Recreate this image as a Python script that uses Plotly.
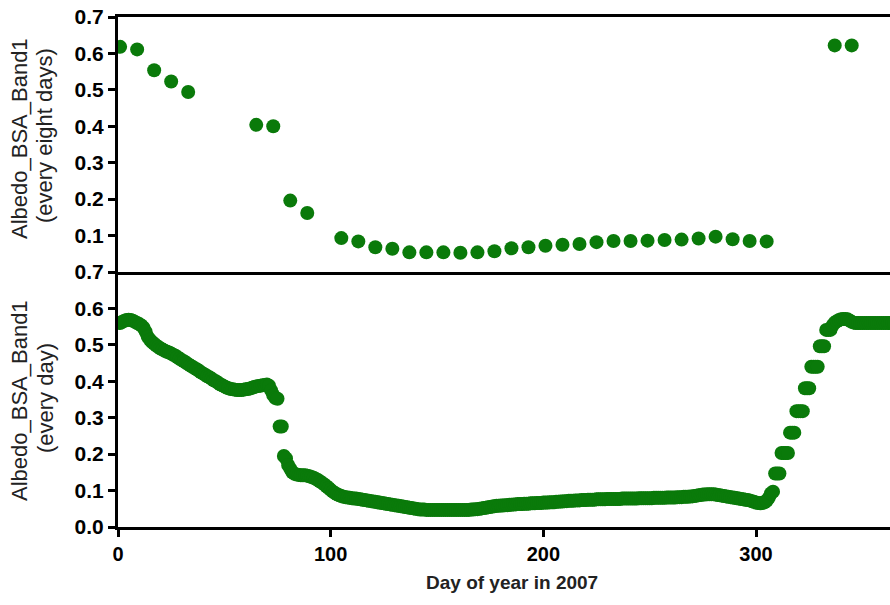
import plotly.graph_objects as go

# ---- data ----
days_8day = [1, 9, 17, 25, 33, 65, 73, 81, 89, 105, 113, 121, 129, 137, 145, 153, 161, 169,
             177, 185, 193, 201, 209, 217, 225, 233, 241, 249, 257, 265, 273, 281, 289, 297,
             305, 337, 345]
albedo_8day = [0.618, 0.611, 0.554, 0.523, 0.494, 0.404, 0.400, 0.196, 0.162, 0.093, 0.084,
               0.068, 0.064, 0.054, 0.054, 0.054, 0.053, 0.054, 0.057, 0.065, 0.068, 0.072,
               0.075, 0.077, 0.082, 0.085, 0.085, 0.086, 0.088, 0.089, 0.092, 0.097, 0.090,
               0.085, 0.084, 0.622, 0.622]

albedo_daily = [
    0.560, 0.563, 0.566, 0.568, 0.569, 0.568, 0.566, 0.563, 0.560, 0.557,
    0.553, 0.547, 0.536, 0.522, 0.514, 0.508, 0.503, 0.498, 0.494, 0.490,
    0.487, 0.484, 0.481, 0.479, 0.476, 0.473, 0.470, 0.466, 0.462, 0.458,
    0.455, 0.451, 0.447, 0.443, 0.440, 0.436, 0.433, 0.429, 0.425, 0.421,
    0.418, 0.414, 0.411, 0.407, 0.403, 0.400, 0.396, 0.392, 0.389, 0.386,
    0.383, 0.381, 0.379, 0.378, 0.377, 0.376, 0.376, 0.376, 0.377, 0.378,
    0.379, 0.380, 0.382, 0.384, 0.386, 0.387, 0.388, 0.389, 0.390, 0.391,
    0.388, 0.375, 0.362, 0.354, 0.352, 0.276, 0.276, 0.195, 0.188, 0.170,
    0.160, 0.150, 0.146, 0.144, 0.143, 0.142, 0.142, 0.142, 0.141, 0.139,
    0.137, 0.135, 0.132, 0.129, 0.125, 0.121, 0.117, 0.112, 0.107, 0.102,
    0.097, 0.093, 0.090, 0.087, 0.085, 0.083, 0.082, 0.081, 0.080, 0.079,
    0.078, 0.078, 0.077, 0.076, 0.075, 0.074, 0.073, 0.072, 0.071, 0.070,
    0.069, 0.068, 0.067, 0.066, 0.065, 0.064, 0.063, 0.062, 0.061, 0.060,
    0.059, 0.058, 0.057, 0.056, 0.055, 0.054, 0.053, 0.052, 0.051, 0.050,
    0.049, 0.048, 0.048, 0.048, 0.047, 0.047, 0.047, 0.047, 0.047, 0.047,
    0.047, 0.047, 0.047, 0.047, 0.047, 0.047, 0.047, 0.047, 0.047, 0.047,
    0.047, 0.047, 0.047, 0.047, 0.047, 0.048, 0.048, 0.049, 0.049, 0.050,
    0.051, 0.052, 0.053, 0.054, 0.055, 0.056, 0.057, 0.058, 0.058, 0.059,
    0.059, 0.060, 0.060, 0.061, 0.061, 0.062, 0.062, 0.063, 0.063, 0.063,
    0.064, 0.064, 0.064, 0.065, 0.065, 0.065, 0.066, 0.066, 0.066, 0.067,
    0.067, 0.067, 0.068, 0.068, 0.068, 0.069, 0.069, 0.070, 0.070, 0.071,
    0.071, 0.072, 0.072, 0.072, 0.073, 0.073, 0.073, 0.074, 0.074, 0.074,
    0.075, 0.075, 0.075, 0.075, 0.076, 0.076, 0.076, 0.076, 0.076, 0.077,
    0.077, 0.077, 0.077, 0.077, 0.077, 0.077, 0.078, 0.078, 0.078, 0.078,
    0.078, 0.078, 0.078, 0.078, 0.079, 0.079, 0.079, 0.079, 0.079, 0.079,
    0.079, 0.080, 0.080, 0.080, 0.080, 0.080, 0.080, 0.081, 0.081, 0.081,
    0.081, 0.081, 0.082, 0.082, 0.082, 0.083, 0.083, 0.083, 0.084, 0.084,
    0.085, 0.086, 0.087, 0.088, 0.089, 0.089, 0.090, 0.090, 0.090, 0.090,
    0.089, 0.088, 0.087, 0.086, 0.085, 0.084, 0.083, 0.082, 0.081, 0.080,
    0.079, 0.078, 0.077, 0.076, 0.075, 0.074, 0.073, 0.071, 0.069, 0.067,
    0.066, 0.065, 0.066, 0.068, 0.072, 0.080, 0.092, 0.097, 0.147, 0.147,
    0.147, 0.203, 0.203, 0.203, 0.203, 0.259, 0.259, 0.259, 0.318, 0.318,
    0.318, 0.318, 0.381, 0.381, 0.381, 0.440, 0.440, 0.440, 0.440, 0.496,
    0.496, 0.496, 0.541, 0.541, 0.541, 0.553, 0.561, 0.565, 0.568, 0.570,
    0.571, 0.571, 0.570, 0.567, 0.563, 0.561, 0.560, 0.560, 0.560, 0.560,
    0.560, 0.560, 0.560, 0.560, 0.560, 0.560, 0.560, 0.560, 0.560, 0.560,
    0.560, 0.560, 0.560, 0.560, 0.560,
]
days_daily = list(range(1, len(albedo_daily) + 1))

y_ticks_top = [0.1, 0.2, 0.3, 0.4, 0.5, 0.6, 0.7]
y_ticks_bottom = [0.0, 0.1, 0.2, 0.3, 0.4, 0.5, 0.6, 0.7]
x_ticks = [0, 100, 200, 300]

GREEN = "#0a7a0a"
FONT = "Liberation Sans, Arial, sans-serif"

fig = go.Figure()
fig.add_trace(go.Scatter(x=days_8day, y=albedo_8day, mode="markers",
                         marker=dict(size=14, color=GREEN, line=dict(width=0)),
                         xaxis="x", yaxis="y", showlegend=False))
fig.add_trace(go.Scatter(x=days_daily, y=albedo_daily, mode="markers",
                         marker=dict(size=14, color=GREEN, line=dict(width=0)),
                         xaxis="x2", yaxis="y2", showlegend=False))

ytickfont = dict(family=FONT, size=21, color="black", weight="bold")
xtickfont = dict(family=FONT, size=20, color="black", weight="bold")
axis_common = dict(showgrid=False, zeroline=False, showline=True, linecolor="black",
                   linewidth=3)

fig.update_layout(
    width=890, height=605,
    margin=dict(l=118, r=0, t=17, b=78),
    paper_bgcolor="white", plot_bgcolor="white",
    xaxis=dict(domain=[0, 1], anchor="y", range=[0, 363], mirror=True,
               showticklabels=False, ticks="", **axis_common),
    yaxis=dict(domain=[0.5, 1], anchor="x", range=[0, 0.7], tickvals=y_ticks_top,
               tickformat=".1f", ticks="outside", ticklen=7, tickwidth=3,
               tickcolor="black", tickfont=ytickfont, **axis_common),
    xaxis2=dict(domain=[0, 1], anchor="y2", range=[0, 363], tickvals=x_ticks,
                ticks="outside", ticklen=7, tickwidth=3, tickcolor="black",
                tickfont=xtickfont, **axis_common),
    yaxis2=dict(domain=[0, 0.5], anchor="x2", range=[0, 0.7], tickvals=y_ticks_bottom,
                tickformat=".1f", ticks="outside", ticklen=7, tickwidth=3,
                tickcolor="black", tickfont=ytickfont, **axis_common),
)

title_font = dict(family=FONT, size=22, color="#222222")
annots = [
    ("Albedo_BSA_Band1", 19, 138),
    ("(every eight days)", 45, 136),
    ("Albedo_BSA_Band1", 19, 400),
    ("(every day)", 45, 398),
]
for text, px, py in annots:
    fig.add_annotation(text=text, xref="paper", yref="paper",
                       x=(px - 118) / 772, y=(527 - py) / 510,
                       xanchor="center", yanchor="middle", textangle=-90,
                       showarrow=False, font=title_font)

fig.add_annotation(text="Day of year in 2007", xref="paper", yref="paper",
                   x=(512 - 118) / 772, y=(527 - 582) / 510,
                   xanchor="center", yanchor="middle", showarrow=False,
                   font=dict(family=FONT, size=19, color="#222222", weight="bold"))

fig.write_html("out.html")
